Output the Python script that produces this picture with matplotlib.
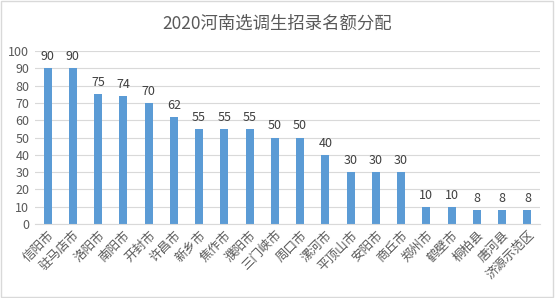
import matplotlib
matplotlib.use("Agg")
import matplotlib.pyplot as plt
from matplotlib.patches import Rectangle

plt.rcParams['font.family'] = ['Noto Sans CJK SC', 'DejaVu Sans']

cities = ["信阳市", "驻马店市", "洛阳市", "南阳市", "开封市", "许昌市", "新乡市",
          "焦作市", "濮阳市", "三门峡市", "周口市", "漯河市", "平顶山市", "安阳市",
          "商丘市", "郑州市", "鹤壁市", "桐柏县", "唐河县", "济源示范区"]
quota = [90, 90, 75, 74, 70, 62, 55, 55, 55, 50, 50, 40, 30, 30, 30, 10, 10, 8, 8, 8]

text_color = "#595959"
bar_color = "#5B9BD5"
grid_color = "#D9D9D9"

fig = plt.figure(figsize=(5.55, 2.98), dpi=100)
ax = fig.add_axes([0.063, 0.248, 0.91, 0.581])

x = list(range(len(cities)))
ax.bar(x, quota, width=0.32, color=bar_color, zorder=2)
for xi, v in zip(x, quota):
    ax.text(xi, v + 3, str(v), ha="center", va="bottom", fontsize=9, color="#404040")

ax.set_ylim(0, 100)
ax.set_yticks(range(0, 101, 10))
ax.set_xlim(-0.5, len(cities) - 0.5)
ax.set_xticks(x)
ax.set_xticklabels(cities, rotation=45, ha="right", rotation_mode="anchor",
                   fontsize=9, color=text_color)
ax.tick_params(axis="y", labelsize=9, colors=text_color, length=0, pad=4)
ax.tick_params(axis="x", length=0, pad=3)
ax.yaxis.grid(True, color=grid_color, linewidth=0.8, zorder=0)
for s in ["top", "right", "left"]:
    ax.spines[s].set_visible(False)
ax.spines["bottom"].set_color(grid_color)

fig.suptitle("2020河南选调生招录名额分配", y=0.95, fontsize=12.5, color=text_color)
fig.patches.append(Rectangle((0.002, 0.003), 0.995, 0.993, transform=fig.transFigure,
                             fill=False, edgecolor=grid_color, linewidth=1))

fig.savefig("out.png", dpi=100)
